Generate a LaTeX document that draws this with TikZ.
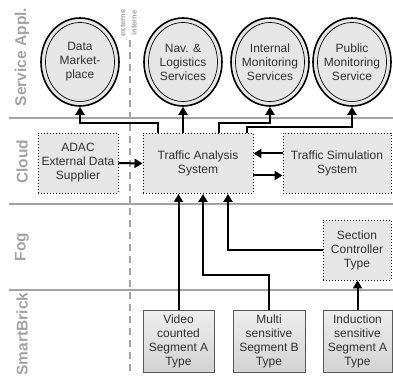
\documentclass[tikz,border=0pt]{standalone}
\usepackage{fontspec}
\setmainfont{Liberation Sans}
\usetikzlibrary{shapes.geometric,arrows.meta}
\definecolor{lanegray}{HTML}{A3A3A3}
\definecolor{boxfill}{HTML}{E6E6E6}
\definecolor{txt}{HTML}{303030}

\begin{document}
\begin{tikzpicture}[x=1pt,y=-1pt,
  lane/.style={draw=lanegray, line width=2pt},
  lanelabel/.style={rotate=90, text=lanegray, inner sep=0,
    font=\bfseries\fontsize{15.5}{15.5}\selectfont},
  sidelabel/.style={rotate=90, text=lanegray, inner sep=0,
    font=\bfseries\fontsize{7.5}{7.5}\selectfont},
  svc/.style={ellipse, draw, line width=1.6pt, fill=boxfill,
    minimum width=78pt, minimum height=88pt, inner sep=0},
  svcring/.style={draw, line width=0.7pt},
  labeltext/.style={align=center, text=txt, inner sep=0,
    font=\fontsize{12}{14}\selectfont},
  cloudbox/.style={labeltext, draw, dash pattern=on 1pt off 2pt,
    line width=0.9pt, fill=boxfill},
  brick/.style={labeltext, draw=gray!70!black, line width=0.6pt,
    top color=gray!14, bottom color=gray!34},
  arr/.style={line width=2pt, -{Triangle[length=8pt,width=9pt]}},
]
\useasboundingbox (0,0) rectangle (393,379);

% swimlane separators
\draw[lane] (9,118) -- (393,118);
\draw[lane] (9,204) -- (393,204);
\draw[lane] (9,290) -- (393,290);
\draw[lanegray, line width=2pt, dash pattern=on 7pt off 5pt] (130,40) -- (130,374);

% lane titles
\node[lanelabel] (l-svc) at (22,57) {Service Appl.};
\node[lanelabel] (l-cloud) at (22,162) {Cloud};
\node[lanelabel] (l-fog) at (22,247) {Fog};
\node[lanelabel] (l-brick) at (22,334) {SmartBrick};
\node[sidelabel] (l-ext) at (123,23) {externe};
\node[sidelabel] (l-int) at (134,23) {interne};

% service applications
\foreach \n/\x in {dm/80, nav/183, ims/270, pms/352}{
  \node[svc] (\n) at (\x,62) {};
  \draw[svcring] (\n.center) ellipse [x radius=34.5pt, y radius=39.5pt];
}
\node[labeltext] (dm-t) at (dm) {Data\\Market-\\place};
\node[labeltext] (nav-t) at (nav) {Nav. \&\\Logistics\\Services};
\node[labeltext] (ims-t) at (ims) {Internal\\Monitoring\\Services};
\node[labeltext] (pms-t) at (pms) {Public\\Monitoring\\Service};

% cloud
\node[cloudbox, minimum width=80pt, minimum height=60pt] (adac) at (78,163)
  {ADAC\\External Data\\Supplier};
\node[cloudbox, minimum width=110pt, minimum height=60pt] (ta) at (198,163.5)
  {Traffic Analysis\\System};
\node[cloudbox, minimum width=108pt, minimum height=60pt] (tsim) at (337,163.5)
  {Traffic Simulation\\System};

% fog
\node[cloudbox, minimum width=68pt, minimum height=60pt] (sct) at (357,250)
  {Section\\Controller\\Type};

% smart bricks
\node[brick, minimum width=71pt, minimum height=62pt] (vid) at (178.5,341)
  {Video\\counted\\Segment A\\Type};
\node[brick, minimum width=72pt, minimum height=62pt] (multi) at (269,341)
  {Multi\\sensitive\\Segment B\\Type};
\node[brick, minimum width=69pt, minimum height=62pt] (ind) at (357.5,341)
  {Induction\\sensitive\\Segment A\\Type};

% data flows
\draw[arr] ([xshift=-40pt]ta.north) -- ++(0,-10) -| (dm.south);
\draw[arr] (ta.north -| nav.south) -- (nav.south);
\draw[arr] ([xshift=21pt]ta.north) -- ++(0,-10) -| (ims.south);
\draw[arr] ([xshift=49pt]ta.north) -- ++(0,-6) -| (pms.south);
\draw[arr] (adac.east) -- (ta.west);
\draw[arr] ([yshift=10pt]tsim.west) -- ([yshift=10pt]ta.east);
\draw[arr] ([yshift=-12pt]ta.east) -- ([yshift=-12pt]tsim.west);
\draw[arr] (vid.north) -- (vid.north |- ta.south);
\draw[arr] (multi.north) -- ++(0,-35) -| ([xshift=5pt]ta.south);
\draw[arr] (sct.west) -| ([xshift=30pt]ta.south);
\draw[arr] (ind.north) -- (ind.north |- sct.south);
\end{tikzpicture}
\end{document}
